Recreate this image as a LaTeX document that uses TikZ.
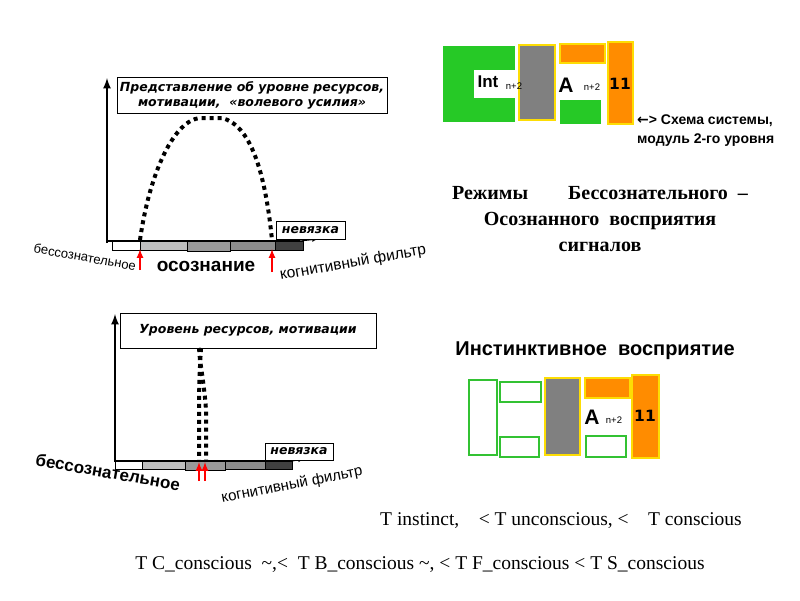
\documentclass[tikz,border=0pt]{standalone}
\usepackage{fontspec}
\setmainfont{Liberation Serif}
\setsansfont{Liberation Sans}
\newfontfamily\dv{DejaVu Sans}
\begin{document}
\begin{tikzpicture}[x=1pt,y=-1pt,
  ax/.style={line width=2.5pt,-latex},
  lab/.style={draw,fill=white,font=\dv\bfseries\itshape\fontsize{12.5}{15}\selectfont,align=center,inner sep=2pt},
  dots/.style={line width=4pt,dash pattern=on 4pt off 4pt},
  red/.style={draw=red,line width=2pt,-latex},
  gfill/.style={fill=green!75!black!85!white,draw=none},
  gout/.style={draw=green!70!black!80!white,line width=1.8pt},
  ofill/.style={fill=orange!90!yellow,draw=yellow!80!orange,line width=1.5pt},
  gray1/.style={fill=gray,draw=yellow!80!orange,line width=1.8pt}]
\useasboundingbox (0,0) rectangle (800,600);
% ---- top chart
\fill[white,draw=black] (112,241) rectangle (140,250);
\fill[gray!50,draw=black] (140,241) rectangle (187,250);
\fill[gray!80,draw=black] (187,241) rectangle (230,251);
\fill[gray!90,draw=black] (230,241) rectangle (275,250);
\fill[black!75,draw=black] (275,241) rectangle (303,250);
\coordinate (a0) at (107,243);\coordinate (a1) at (107,78);\coordinate (a2) at (318,239);
\draw[ax] (a0) -- (a1);
\draw[line width=2.5pt] (107,241) -- (300,241);
\draw[-latex,line width=1pt] (300,241) -- (a2);
\node[lab,minimum width=270pt,minimum height=36pt,inner sep=1pt] (l1) at (252,95) {Представление об уровне ресурсов,\\ мотивации,\ \ «волевого усилия»};
\draw[dots] (140,240) .. controls (150,170) and (175,120) .. (200,118) -- (222,118) .. controls (250,125) and (265,170) .. (272,240);
\node[lab,minimum width=69pt,minimum height=18pt,inner sep=0pt] (n1) at (310.5,230) {невязка};
\coordinate (r1s) at (140,270);\coordinate (r1e) at (140,249);
\coordinate (r2s) at (272,272);\coordinate (r2e) at (272,249);
\draw[red] (r1s) -- (r1e); \draw[red] (r2s) -- (r2e);
\node[font=\sffamily\bfseries\fontsize{19}{21}\selectfont] (os) at (206,266) {осознание};
\node[font=\sffamily\fontsize{13}{15}\selectfont,rotate=-10] (b1) at (85,257) {бессознательное};
\node[font=\sffamily\fontsize{15.5}{17}\selectfont,rotate=10] (k1) at (353,263) {когнитивный фильтр};
% ---- bottom chart
\fill[white,draw=black] (115,461) rectangle (142,469);
\fill[gray!50,draw=black] (142,461) rectangle (185,469);
\fill[gray!80,draw=black] (185,461) rectangle (225,470);
\fill[gray!90,draw=black] (225,461) rectangle (265,469);
\fill[black!75,draw=black] (265,461) rectangle (292,469);
\coordinate (b0) at (115,462);\coordinate (b1t) at (115,314);\coordinate (b2) at (304,459);
\draw[ax] (b0) -- (b1t);
\draw[line width=2.5pt] (115,461) -- (292,461);
\draw[-latex,line width=1pt] (292,461) -- (b2);
\node[lab,minimum width=256pt,minimum height=35pt] (l2) at (248,330.5) {Уровень ресурсов, мотивации};
\draw[dots] (199,348) -- (200,360) .. controls (203,380) and (205,395) .. (206,410) -- (206,460);
\draw[dots] (201,348) .. controls (199,380) and (199,400) .. (199,420) -- (199,460);
\node[lab,minimum width=68pt,minimum height=17pt,inner sep=0pt] (n2) at (299,451.5) {невязка};
\coordinate (r3s) at (199,481);\coordinate (r3e) at (199,462);
\coordinate (r4s) at (205,481);\coordinate (r4e) at (205,462);
\draw[red] (r3s) -- (r3e); \draw[red] (r4s) -- (r4e);
\node[font=\sffamily\bfseries\fontsize{17}{19}\selectfont,rotate=-10] (b2t) at (108,472) {бессознательное};
\node[font=\sffamily\fontsize{15}{17}\selectfont,rotate=11] (k2) at (292,485) {когнитивный фильтр};
% ---- top schematic
\fill[gfill] (443,46) rectangle (474,122);
\fill[gfill] (474,46) rectangle (515,70);
\fill[gfill] (474,98) rectangle (515,122);
\draw[gray1] (519,45) rectangle (555,120);
\draw[ofill] (560,44) rectangle (605,63);
\fill[gfill] (560,100) rectangle (601,124);
\draw[ofill] (608,42) rectangle (633,124);
\node[font=\sffamily\bfseries\fontsize{17}{19}\selectfont] (int) at (488,82) {Int};
\node[font=\sffamily\fontsize{9.5}{11}\selectfont] (n21) at (514,86) {n+2};
\node[font=\sffamily\bfseries\fontsize{21}{23}\selectfont] (A1) at (566,85) {A};
\node[font=\sffamily\fontsize{9.5}{11}\selectfont] (n22) at (592,87) {n+2};
\node[font=\dv\bfseries\fontsize{15.5}{17}\selectfont] (e1) at (620,84) {11};
\node[font=\sffamily\bfseries\fontsize{14}{19}\selectfont,align=left,anchor=north west,inner sep=0pt] (sch) at (637,115) {\dv\symbol{"2190}\sffamily> Схема системы,\\модуль 2-го уровня};
\node[font=\bfseries\fontsize{20}{26}\selectfont,align=center] (rej) at (600,219) {Режимы\hspace{2em}Бессознательного\ \ –\\Осознанного\ \ восприятия\\сигналов};
\node[font=\sffamily\bfseries\fontsize{20}{22}\selectfont] (ins) at (595,351) {Инстинктивное\ \ восприятие};
% ---- bottom schematic
\draw[gout] (469,380) rectangle (497,455);
\draw[gout] (500,382) rectangle (541,402);
\draw[gout] (500,437) rectangle (539,457);
\draw[gray1] (545,378) rectangle (580,455);
\draw[ofill] (585,378) rectangle (630,398);
\draw[gout] (586,436) rectangle (626,457);
\draw[ofill] (632,375) rectangle (659,458);
\node[font=\sffamily\bfseries\fontsize{21}{23}\selectfont] (A2) at (592,417) {A};
\node[font=\sffamily\fontsize{9.5}{11}\selectfont] (n23) at (614,420) {n+2};
\node[font=\dv\bfseries\fontsize{15.5}{17}\selectfont] (e2) at (645,416) {11};
% ---- bottom text
\node[font=\fontsize{19.5}{21}\selectfont] (t1) at (561,521) {Т instinct,\quad <\ Т unconscious, <\quad Т conscious};
\node[font=\fontsize{19.5}{21}\selectfont] (t2) at (420,565) {Т C\_conscious\ \ \textasciitilde,<\ \ Т B\_conscious \textasciitilde, < Т F\_conscious < Т S\_conscious};
\end{tikzpicture}
\end{document}
